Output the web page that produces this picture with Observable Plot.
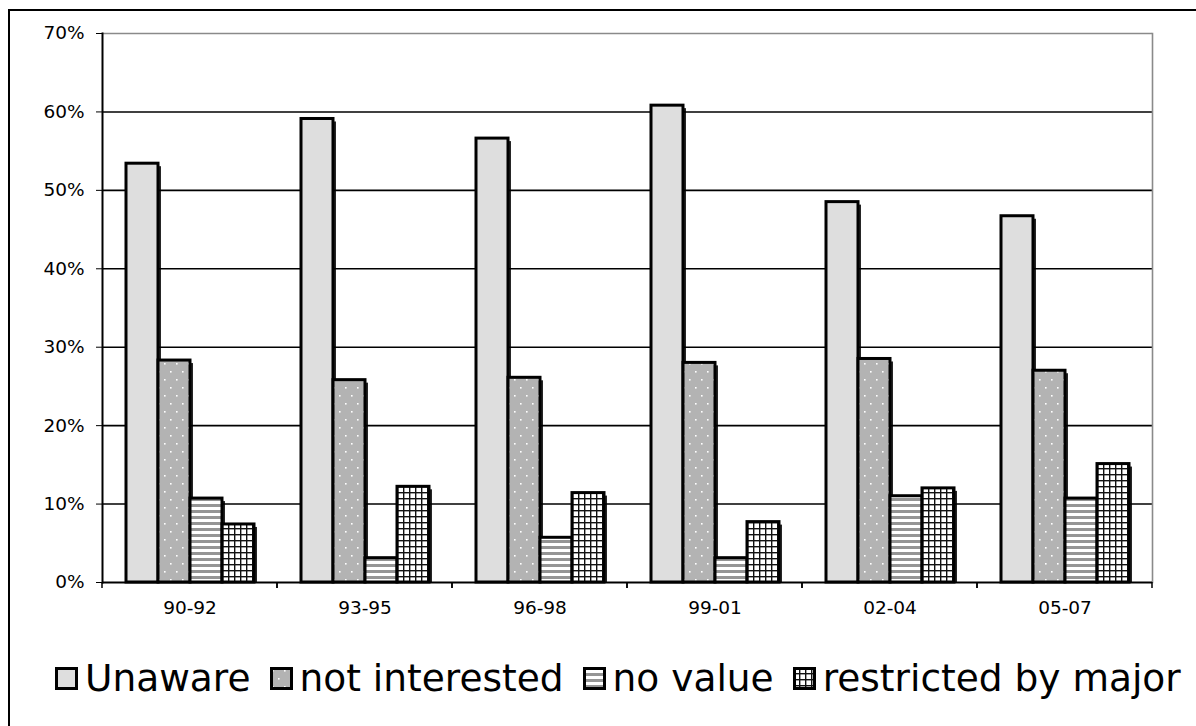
<!DOCTYPE html>
<html>
<head>
<meta charset="utf-8">
<script src="https://cdn.jsdelivr.net/npm/d3@7"></script>
<script src="https://cdn.jsdelivr.net/npm/@observablehq/plot@0.6"></script>
<style>
  html, body { margin: 0; padding: 0; background: #fff; overflow: hidden; width: 1196px; height: 726px; }
  #border { position: absolute; left: 8px; top: 9px; width: 1300px; height: 800px; border-left: 2px solid #000; border-top: 2px solid #000; }
  #chart { position: absolute; left: 0; top: 0; }
  #legend { position: absolute; left: 55px; top: 656px; display: flex; align-items: center; font-family: "DejaVu Sans", Verdana, sans-serif; font-size: 37.5px; color: #000; white-space: nowrap; }
  #legend .item { display: flex; align-items: center; margin-right: 19px; }
  #legend svg { margin-right: 7px; }
</style>
</head>
<body>
<svg width="0" height="0" style="position:absolute">
  <defs>
    <pattern id="pUnaware" width="4" height="4" patternUnits="userSpaceOnUse">
      <rect width="4" height="4" fill="#dedede"></rect>
    </pattern>
    <pattern id="pNotInt" width="12" height="16" patternUnits="userSpaceOnUse">
      <rect width="12" height="16" fill="#b3b3b3"></rect>
      <rect x="2" y="3" width="1.6" height="1.6" fill="#fff"></rect>
      <rect x="8" y="11" width="1.6" height="1.6" fill="#fff"></rect>
    </pattern>
    <pattern id="pNoValue" width="6" height="6" patternUnits="userSpaceOnUse">
      <rect width="6" height="6" fill="#fff"></rect>
      <rect y="0" width="6" height="3" fill="#959595"></rect>
    </pattern>
    <pattern id="pRestricted" width="6" height="6" patternUnits="userSpaceOnUse">
      <rect width="6" height="6" fill="#fff"></rect>
      <rect x="0" y="0" width="1.4" height="6" fill="#111"></rect>
      <rect x="0" y="0" width="6" height="1.4" fill="#111"></rect>
    </pattern>
  </defs>
</svg>
<div id="border"></div>
<div id="chart"></div>
<div id="legend"></div>
<script>
// ---- data ----
const groups = ["90-92", "93-95", "96-98", "99-01", "02-04", "05-07"];
const series = ["Unaware", "not interested", "no value", "restricted by major"];
const unaware = [53.4, 59.1, 56.6, 60.8, 48.5, 46.7];
const notInterested = [28.3, 25.8, 26.1, 28.0, 28.5, 27.0];
const noValue = [10.7, 3.1, 5.7, 3.1, 11.0, 10.7];
const restricted = [7.4, 12.2, 11.4, 7.7, 12.0, 15.1];
const yTicks = [0, 10, 20, 30, 40, 50, 60, 70];
const patterns = ["url(#pUnaware)", "url(#pNotInt)", "url(#pNoValue)", "url(#pRestricted)"];

const valuesBySeries = [unaware, notInterested, noValue, restricted];
const data = [];
groups.forEach((g, gi) => {
  series.forEach((s, si) => data.push({group: g, series: s, value: valuesBySeries[si][gi]}));
});

// boundary tick marks below the x axis (at the edges of each group band)
function boundaryTicks(index, scales, values, dims) {
  const g = d3.create("svg:g");
  const y0 = dims.height - dims.marginBottom;
  for (const x of [dims.marginLeft, dims.width - dims.marginRight]) {
    g.append("line").attr("x1", x).attr("x2", x).attr("y1", y0).attr("y2", y0 + 6)
      .attr("stroke", "#000").attr("stroke-width", 1.5);
  }
  return g.node();
}

const chart = Plot.plot({
  width: 1196,
  height: 640,
  marginLeft: 102,
  marginRight: 44,
  marginTop: 33,
  marginBottom: 58,
  style: {fontFamily: "DejaVu Sans, Verdana, sans-serif", fontSize: "18.5px", color: "#000", background: "transparent"},
  fx: {domain: groups, padding: 0, label: null, tickSize: 0, tickPadding: 18, axis: "bottom"},
  x: {domain: series, paddingInner: 0, paddingOuter: 0.734, axis: null},
  y: {domain: [0, 70], ticks: yTicks, tickFormat: d => d + "%", tickSize: 6, tickPadding: 12, label: null},
  color: {domain: series, range: patterns},
  marks: [
    Plot.ruleY(yTicks.slice(1, -1), {stroke: "#000", strokeWidth: 1.6}),
    Plot.ruleY([70], {stroke: "#8a8a8a", strokeWidth: 1.6}),
    Plot.frame({anchor: "right", facetAnchor: "right", stroke: "#8a8a8a", strokeWidth: 1.6}),
    Plot.barY(data, {fx: "group", x: "series", y: "value", fill: "#000", fillOpacity: 0.85, dx: 3, dy: 3, insetBottom: 3}),
    Plot.barY(data, {fx: "group", x: "series", y: "value", fill: "series", stroke: "#000", strokeWidth: 3}),
    Plot.ruleY([0], {stroke: "#000", strokeWidth: 2}),
    Plot.frame({anchor: "left", facetAnchor: "left", stroke: "#000", strokeWidth: 2}),
    boundaryTicks
  ]
});
document.getElementById("chart").appendChild(chart);

// legend
const legend = d3.select("#legend");
series.forEach((s, i) => {
  const item = legend.append("div").attr("class", "item");
  const sw = item.append("svg").attr("width", 23).attr("height", 23);
  sw.append("rect").attr("x", 1.5).attr("y", 1.5).attr("width", 20).attr("height", 20)
    .attr("fill", patterns[i]).attr("stroke", "#000").attr("stroke-width", 3);
  item.append("span").text(s);
});
</script>
</body>
</html>
